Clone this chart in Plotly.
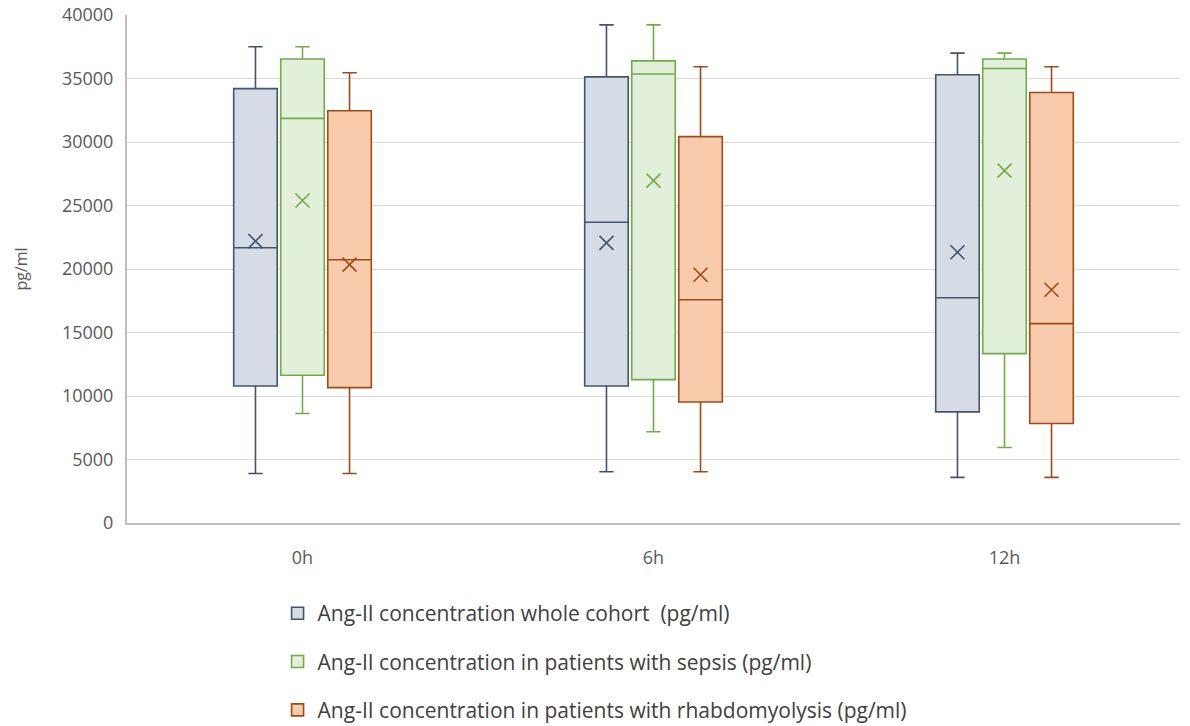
import plotly.graph_objects as go

categories = ["0h", "6h", "12h"]
series_names = [
    "Ang-II concentration whole cohort  (pg/ml)",
    "Ang-II concentration in patients with sepsis (pg/ml)",
    "Ang-II concentration in patients with rhabdomyolysis (pg/ml)",
]

# whole cohort
cohort_low = [3900, 4030, 3590]
cohort_q1 = [10790, 10790, 8750]
cohort_med = [21670, 23680, 17740]
cohort_q3 = [34200, 35130, 35290]
cohort_high = [37500, 39220, 37000]
cohort_mean = [22190, 22060, 21320]

# sepsis
sepsis_low = [8620, 7180, 5950]
sepsis_q1 = [11630, 11290, 13340]
sepsis_med = [31860, 35350, 35790]
sepsis_q3 = [36530, 36390, 36530]
sepsis_high = [37500, 39220, 37000]
sepsis_mean = [25390, 26960, 27750]

# rhabdomyolysis
rhabdo_low = [3900, 4030, 3590]
rhabdo_q1 = [10660, 9530, 7840]
rhabdo_med = [20730, 17580, 15700]
rhabdo_q3 = [32460, 30420, 33900]
rhabdo_high = [35450, 35920, 35920]
rhabdo_mean = [20350, 19550, 18370]

y_ticks = [0, 5000, 10000, 15000, 20000, 25000, 30000, 35000, 40000]
y_tick_labels = [str(v) for v in y_ticks]

series = [
    (cohort_low, cohort_q1, cohort_med, cohort_q3, cohort_high, cohort_mean),
    (sepsis_low, sepsis_q1, sepsis_med, sepsis_q3, sepsis_high, sepsis_mean),
    (rhabdo_low, rhabdo_q1, rhabdo_med, rhabdo_q3, rhabdo_high, rhabdo_mean),
]
fills = ["#d6dce5", "#e2efda", "#f8cbad"]
lines = ["#44546a", "#70ad47", "#a04a14"]
offsets = [-0.134, 0.0, 0.134]
box_width = 0.124

fig = go.Figure()
base_x = list(range(len(categories)))
for i, (lo, q1, med, q3, hi, mn) in enumerate(series):
    xs = [b + offsets[i] for b in base_x]
    fig.add_trace(go.Box(
        x=xs, lowerfence=lo, q1=q1, median=med, q3=q3, upperfence=hi,
        name=series_names[i], width=box_width, whiskerwidth=0.33,
        fillcolor=fills[i], line=dict(color=lines[i], width=1.6),
        legendgroup=f"g{i}", showlegend=True, hoverinfo="skip",
    ))
    fig.add_trace(go.Scatter(
        x=xs, y=mn, mode="markers", legendgroup=f"g{i}", showlegend=False,
        marker=dict(symbol="x-thin", size=14, line=dict(color=lines[i], width=1.6)),
        hoverinfo="skip",
    ))

fig.update_layout(
    width=1190, height=726,
    paper_bgcolor="white", plot_bgcolor="white",
    margin=dict(l=127, r=10, t=15, b=203, autoexpand=False),
    font=dict(family="Open Sans, sans-serif", color="#595959", size=16),
    legend=dict(
        x=0.143, xanchor="left", y=-0.138, yanchor="top",
        orientation="v", tracegroupgap=18,
        font=dict(size=21, color="#404040"),
        bgcolor="rgba(0,0,0,0)",
    ),
)
fig.update_xaxes(
    range=[-0.5, 2.5], tickmode="array", tickvals=base_x, ticktext=categories,
    showgrid=False, zeroline=False, automargin=False,
    showline=True, linecolor="#bfbfbf", linewidth=2,
    ticks="outside", ticklen=17, tickcolor="rgba(0,0,0,0)",
    tickfont=dict(size=18, color="#595959"),
)
fig.update_yaxes(
    range=[0, 40000], tickmode="array", tickvals=y_ticks, ticktext=y_tick_labels,
    showgrid=True, gridcolor="#d9d9d9", gridwidth=1.2, zeroline=False,
    automargin=False, ticklabeloverflow="allow",
    showline=True, linecolor="#bfbfbf", linewidth=2,
    ticks="outside", ticklen=8, tickcolor="rgba(0,0,0,0)",
    tickfont=dict(size=18, color="#595959"),
    title=dict(text="pg/ml", font=dict(size=16, color="#595959"), standoff=30),
)

fig.write_html(
    "out.html",
    config={"displayModeBar": False},
    post_script="document.body.style.margin='0';document.body.style.padding='0';",
)
